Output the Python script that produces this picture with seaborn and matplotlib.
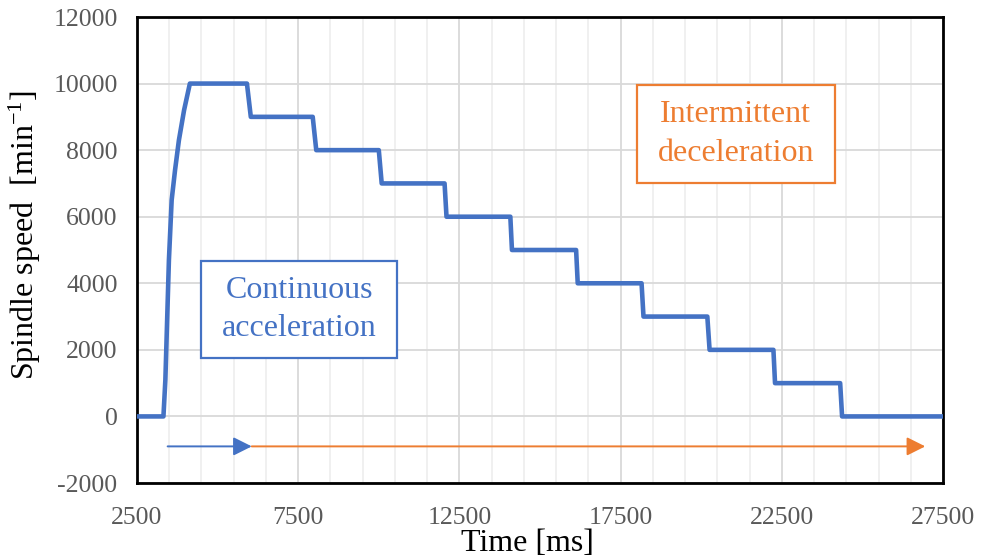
import numpy as np
import pandas as pd
import matplotlib
matplotlib.use("Agg")
import matplotlib.pyplot as plt
from matplotlib.ticker import FixedLocator
from matplotlib.patches import Rectangle
import seaborn as sns

# Spindle speed profile: fast run-up, then 1000 min^-1 steps every ~2 s
time_ms = [2500, 3320, 3380, 3490, 3575, 3680, 3800, 3960, 4140,
           5910, 6030, 7950, 8060, 10000, 10090, 12040, 12100,
           14080, 14130, 16120, 16170, 18150, 18210, 20190, 20260,
           22240, 22290, 24310, 24370, 27500]
speed_rpm = [0, 0, 1100, 4700, 6500, 7400, 8300, 9200, 10000,
             10000, 9000, 9000, 8000, 8000, 7000, 7000, 6000,
             6000, 5000, 5000, 4000, 4000, 3000, 3000, 2000,
             2000, 1000, 1000, 0, 0]

# Phase arrows below the curve
accel_span = [3450, 6060]
decel_span = [6060, 26950]
arrow_level = -900

x_ticks = [2500, 7500, 12500, 17500, 22500, 27500]
x_minor = list(range(3500, 27500, 1000))
y_ticks = [-2000, 0, 2000, 4000, 6000, 8000, 10000, 12000]

blue = "#4472C4"
orange = "#ED7D31"
tick_grey = "#595959"

sns.set_theme(style="white")
plt.rcParams["font.family"] = ["Liberation Serif", "DejaVu Serif"]
plt.rcParams["mathtext.fontset"] = "custom"
plt.rcParams["mathtext.rm"] = "Liberation Serif"
plt.rcParams["mathtext.default"] = "regular"
plt.rcParams["axes.unicode_minus"] = False

df = pd.DataFrame({"Time": time_ms, "Speed": speed_rpm})

fig = plt.figure(figsize=(9.81, 5.59), dpi=100)
ax = fig.add_axes([137 / 981, 1 - 483 / 559, 806 / 981, 466 / 559])

sns.lineplot(data=df, x="Time", y="Speed", ax=ax, color=blue, lw=3.3,
             sort=False, estimator=None, zorder=5)

ax.set_xlim(2500, 27500)
ax.set_ylim(-2000, 12000)
ax.xaxis.set_major_locator(FixedLocator(x_ticks))
ax.xaxis.set_minor_locator(FixedLocator(x_minor))
ax.yaxis.set_major_locator(FixedLocator(y_ticks))

ax.grid(which="major", axis="both", color="#d9d9d9", lw=1.3, zorder=0)
ax.grid(which="minor", axis="x", color="#efefef", lw=1.3, zorder=0)
ax.set_axisbelow(True)

for s in ax.spines.values():
    s.set_color("black")
    s.set_linewidth(2.0)

ax.tick_params(axis="both", which="both", length=0, labelsize=18.5,
               labelcolor=tick_grey)
ax.tick_params(axis="y", pad=14)
ax.tick_params(axis="x", pad=17)

ax.set_xlabel("Time [ms]", fontsize=23, color="black", labelpad=0)
ax.xaxis.label.set_x(0.485)
ax.set_ylabel("Spindle speed  [min$^{-1}$]", fontsize=23, color="black")
ax.yaxis.set_label_coords(-0.117, 0.532)

# Phase arrows
ax.annotate("", xy=(accel_span[1], arrow_level), xytext=(accel_span[0], arrow_level),
            arrowprops=dict(arrowstyle="-|>,head_length=0.8,head_width=0.4",
                            color=blue, lw=1.4, mutation_scale=14,
                            shrinkA=0, shrinkB=0), zorder=4)
ax.annotate("", xy=(decel_span[1], arrow_level), xytext=(decel_span[0], arrow_level),
            arrowprops=dict(arrowstyle="-|>,head_length=0.8,head_width=0.4",
                            color=orange, lw=1.4, mutation_scale=14,
                            shrinkA=0, shrinkB=0), zorder=3)

# Labelled boxes (axes-fraction frames with centred two-line text)
def label_box(x0, y0, x1, y1, text, color, spacing):
    ax.add_patch(Rectangle((x0, y0), x1 - x0, y1 - y0, transform=ax.transAxes,
                           fc="white", ec=color, lw=1.6, zorder=6))
    ax.text((x0 + x1) / 2, (y0 + y1) / 2, text, transform=ax.transAxes,
            ha="center", va="center", fontsize=23, color=color,
            linespacing=spacing, zorder=7)

label_box(0.0794, 0.268, 0.3226, 0.476, "Continuous\nacceleration", blue, 1.42)
label_box(0.620, 0.644, 0.866, 0.854, "Intermittent\ndeceleration", orange, 1.48)

fig.savefig("out.png", dpi=100, facecolor="white")
